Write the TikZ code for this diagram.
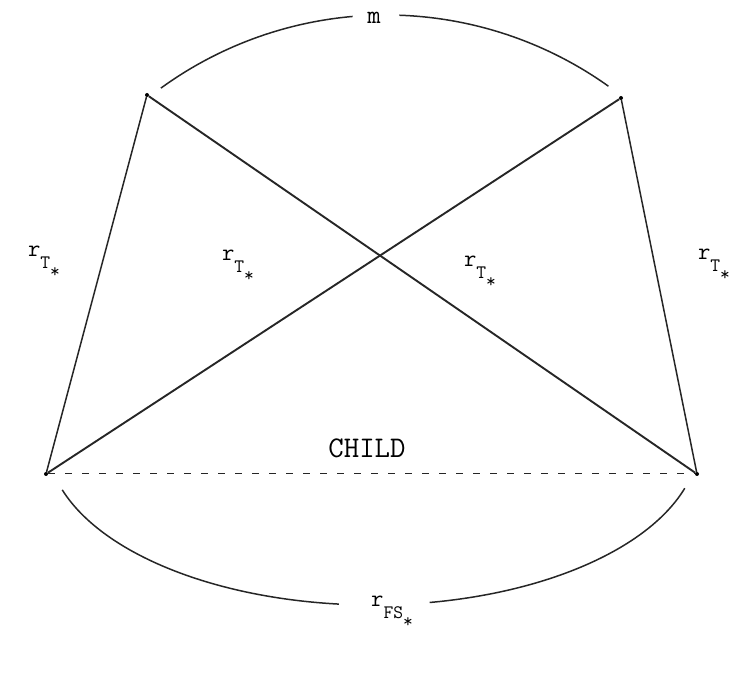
\documentclass[tikz,border=0pt]{standalone}
\newcommand{\rlab}[1]{\ttfamily\fontsize{24}{26}\selectfont r\raisebox{-0.5em}{\fontsize{19}{21}\selectfont #1\raisebox{-0.45em}{*}}}
\begin{document}
\begin{tikzpicture}[x=1pt,y=1pt,
  vdot/.style={circle,fill=black,inner sep=0pt,minimum size=4pt},
  edge/.style={line width=1.5pt,black!85},
  lab/.style={font=\ttfamily\fontsize{30}{32}\selectfont,inner sep=1pt}]
\useasboundingbox (0,0) rectangle (730,672);
\node[vdot] (tl) at (147,577) {};
\node[vdot] (tr) at (621,574) {};
\node[vdot] (bl) at (46,198) {};
\node[vdot] (br) at (697,198) {};
\node[lab,font=\ttfamily\fontsize{26}{28}\selectfont] (m) at (374,654) {m};
\node[lab] (child) at (367,224) {CHILD};
\node[lab] (l1) at (44,410) {\rlab{T}};
\node[lab] (l2) at (238,406) {\rlab{T}};
\node[lab] (l3) at (480,400) {\rlab{T}};
\node[lab] (l4) at (714,407) {\rlab{T}};
\node[lab] (lfs) at (392,60) {\rlab{FS}};
\coordinate (topc) at (386,274);
\coordinate (botc) at (373,232);
\draw[edge] (tl) -- (bl);
\draw[edge] (tr) -- (br);
\draw[edge,line width=1.9pt] (tl) -- (br);
\draw[edge,line width=1.9pt] (tr) -- (bl);
\draw[edge,line width=1pt,dash pattern=on 7pt off 10pt] (bl) -- (br);
\draw[edge] (topc) ++(126:383) arc[start angle=126, end angle=95, radius=383];
\draw[edge] (topc) ++(88:383) arc[start angle=88, end angle=54.5, radius=383];
\draw[edge] (botc) ++(197.6:326 and 165) arc[start angle=197.6, end angle=264, x radius=326, y radius=165];
\draw[edge] (botc) ++(280:326 and 165) arc[start angle=280, end angle=343, x radius=326, y radius=165];
\end{tikzpicture}
\end{document}
